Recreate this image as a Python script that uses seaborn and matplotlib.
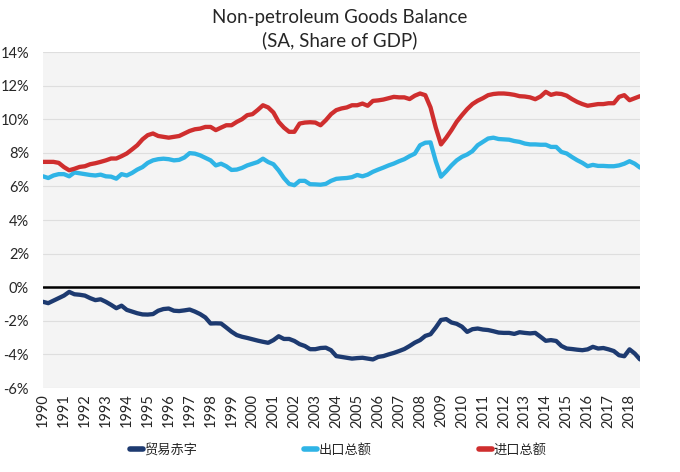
import numpy as np
import pandas as pd
import matplotlib
matplotlib.use("Agg")
import matplotlib.pyplot as plt
import seaborn as sns
from matplotlib.lines import Line2D

# Quarterly data 1990Q1 .. 2018Q3, % of GDP
exports = [
    6.60, 6.50, 6.65, 6.73,
    6.73, 6.60, 6.83, 6.78,
    6.73, 6.68, 6.65, 6.70,
    6.60, 6.58, 6.46, 6.73,
    6.65, 6.80, 7.00, 7.15,
    7.40, 7.55, 7.62, 7.65,
    7.62, 7.55, 7.58, 7.72,
    7.98, 7.95, 7.85, 7.70,
    7.55, 7.25, 7.35, 7.20,
    6.98, 7.00, 7.10, 7.25,
    7.35, 7.45, 7.65, 7.45,
    7.32, 6.95, 6.50, 6.15,
    6.07, 6.33, 6.33, 6.13,
    6.12, 6.10, 6.15, 6.33,
    6.45, 6.48, 6.50, 6.55,
    6.68, 6.60, 6.70, 6.87,
    7.00, 7.12, 7.25, 7.36,
    7.50, 7.62, 7.80, 7.95,
    8.45, 8.60, 8.62, 7.50,
    6.58, 6.90, 7.25, 7.55,
    7.76, 7.90, 8.10, 8.45,
    8.65, 8.85, 8.90, 8.82,
    8.80, 8.78, 8.70, 8.65,
    8.55, 8.50, 8.50, 8.48,
    8.48, 8.35, 8.35, 8.05,
    7.96, 7.75, 7.56, 7.40,
    7.20, 7.28, 7.22, 7.22,
    7.20, 7.20, 7.25, 7.35,
    7.50, 7.35, 7.12,
]
imports = [
    7.46, 7.46, 7.46, 7.40,
    7.15, 6.96, 7.05, 7.16,
    7.20, 7.32, 7.38, 7.46,
    7.55, 7.66, 7.66, 7.80,
    7.96, 8.20, 8.45, 8.80,
    9.05, 9.15, 9.00, 8.95,
    8.90, 8.95, 9.00, 9.15,
    9.30, 9.40, 9.44, 9.54,
    9.54, 9.35, 9.50, 9.64,
    9.64, 9.84, 10.00, 10.24,
    10.30, 10.55, 10.83, 10.70,
    10.40, 9.84, 9.50, 9.25,
    9.25, 9.74, 9.80, 9.82,
    9.80, 9.64, 9.94, 10.30,
    10.54, 10.64, 10.70, 10.83,
    10.83, 10.93, 10.80, 11.09,
    11.12, 11.17, 11.25, 11.33,
    11.30, 11.30, 11.20, 11.40,
    11.53, 11.43, 10.70, 9.50,
    8.50, 8.90, 9.35, 9.85,
    10.24, 10.60, 10.90, 11.10,
    11.25, 11.43, 11.50, 11.53,
    11.53, 11.50, 11.45, 11.37,
    11.35, 11.30, 11.19, 11.35,
    11.63, 11.45, 11.53, 11.50,
    11.40, 11.20, 11.03, 10.90,
    10.80, 10.85, 10.90, 10.90,
    10.95, 10.95, 11.33, 11.43,
    11.13, 11.25, 11.37,
]
balance = [
    -0.87, -0.95, -0.80, -0.65,
    -0.50, -0.28, -0.42, -0.45,
    -0.50, -0.65, -0.77, -0.72,
    -0.87, -1.05, -1.25, -1.10,
    -1.35, -1.45, -1.55, -1.62,
    -1.63, -1.60, -1.40, -1.30,
    -1.27, -1.40, -1.42, -1.38,
    -1.33, -1.45, -1.60, -1.80,
    -2.16, -2.15, -2.16, -2.40,
    -2.65, -2.85, -2.95, -3.02,
    -3.10, -3.18, -3.25, -3.31,
    -3.15, -2.92, -3.08, -3.08,
    -3.20, -3.39, -3.50, -3.69,
    -3.69, -3.62, -3.60, -3.75,
    -4.10, -4.15, -4.20, -4.25,
    -4.22, -4.20, -4.25, -4.30,
    -4.15, -4.10, -4.00, -3.91,
    -3.80, -3.68, -3.50, -3.30,
    -3.15, -2.90, -2.80, -2.40,
    -1.95, -1.90, -2.10, -2.18,
    -2.35, -2.66, -2.50, -2.46,
    -2.52, -2.55, -2.62, -2.70,
    -2.72, -2.72, -2.78, -2.68,
    -2.72, -2.75, -2.72, -2.95,
    -3.19, -3.15, -3.20, -3.50,
    -3.65, -3.68, -3.72, -3.75,
    -3.70, -3.55, -3.65, -3.62,
    -3.70, -3.80, -4.05, -4.11,
    -3.70, -3.95, -4.30,
]
series_names = ["贸易赤字", "出口总额", "进口总额"]
series_colors = ["#1d3a70", "#2fb4e6", "#cf2e2e"]
year_labels = [str(y) for y in range(1990, 2019)]
y_ticks = list(range(-6, 15, 2))

n = len(exports)
df = pd.DataFrame({
    "q": list(range(n)) * 3,
    "value": balance + exports + imports,
    "series": [series_names[0]] * n + [series_names[1]] * n + [series_names[2]] * n,
})

sns.set_theme(style="white")
plt.rcParams["font.family"] = ["Lato", "Noto Sans CJK SC", "DejaVu Sans"]

fig = plt.figure(figsize=(6.8, 4.72), dpi=100)
ax = fig.add_axes([43 / 680, 1 - 388 / 472, (640 - 43) / 680, (388 - 52) / 472])
ax.set_facecolor("#f4f4f4")

sns.lineplot(data=df, x="q", y="value", hue="series", hue_order=series_names,
             palette=series_colors, linewidth=3.1, ax=ax, legend=False,
             solid_capstyle="round", zorder=3)

ax.axhline(0, color="black", linewidth=1.8, zorder=2)
ax.set_xlim(0, n - 1)
ax.set_ylim(-6, 14)
ax.set_yticks(y_ticks)
ax.set_yticklabels([f"{t}%" for t in y_ticks], fontsize=10.5)
ax.yaxis.grid(True, color="#dedede", linewidth=0.8)
ax.xaxis.grid(False)
ax.set_axisbelow(True)
ax.set_xticks(list(range(0, 4 * len(year_labels), 4)))
ax.set_xticklabels(year_labels, rotation=90, fontsize=10.5)
ax.tick_params(axis="both", length=0, pad=4)
ax.tick_params(axis="y", pad=10)
ax.set_xlabel("")
ax.set_ylabel("")
for s in ax.spines.values():
    s.set_visible(False)

fig.text(0.5, 1 - 18 / 472, "Non-petroleum Goods Balance", ha="center", va="center", fontsize=13.5)
fig.text(0.5, 1 - 40 / 472, "(SA, Share of GDP)", ha="center", va="center", fontsize=13.5)

handles = [Line2D([0], [0], color=c, linewidth=4, solid_capstyle="round") for c in series_colors]
fig.legend(handles, series_names, loc="center", bbox_to_anchor=(0.497, 1 - 450 / 472),
           ncol=3, frameon=False, handlelength=1.0, handletextpad=0.1,
           columnspacing=8.1, prop={"family": ["Noto Sans CJK SC", "DejaVu Sans"], "size": 9.5})

fig.savefig("out.png", dpi=100)
